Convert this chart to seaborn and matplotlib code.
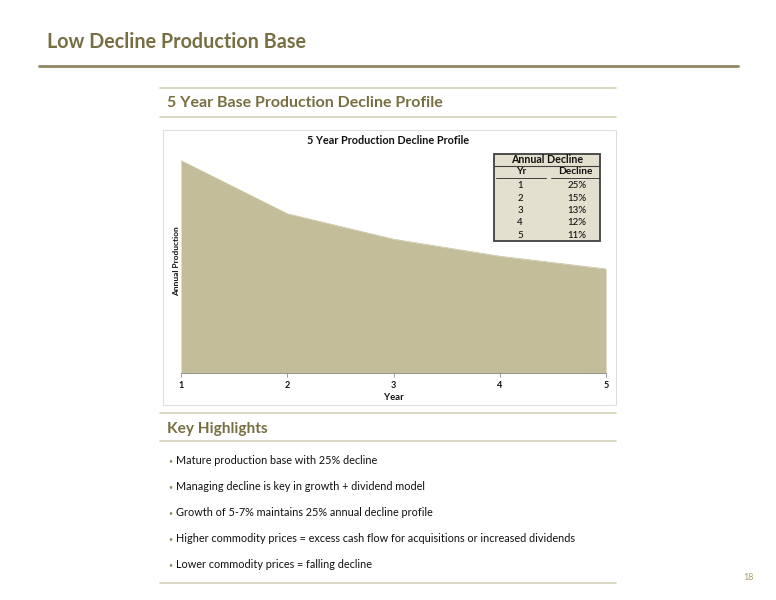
import matplotlib
matplotlib.use("Agg")
import matplotlib.pyplot as plt
from matplotlib.lines import Line2D
from matplotlib.patches import Rectangle
import seaborn as sns
import pandas as pd

# Data
years = [1, 2, 3, 4, 5]
production = [100, 75, 63, 55, 49]
table_years = ["1", "2", "3", "4", "5"]
table_declines = ["25%", "15%", "13%", "12%", "11%"]
highlights = [
    "Mature production base with 25% decline",
    "Managing decline is key in growth + dividend model",
    "Growth of 5-7% maintains 25% annual decline profile",
    "Higher commodity prices = excess cash flow for acquisitions or increased dividends",
    "Lower commodity prices = falling decline",
]

W, H = 776, 600
olive = "#776f43"
area_col = "#c4bd99"
rule_col = "#d3cfb8"
dark = "#111111"

sns.set_theme(style="white")
plt.rcParams["font.family"] = ["Lato", "DejaVu Sans"]


def fx(px):
    return px / W


def fy(py):
    return 1 - py / H


def hline(x0, x1, y, color, lw):
    fig.add_artist(Line2D([fx(x0), fx(x1)], [fy(y), fy(y)], color=color, lw=lw,
                          transform=fig.transFigure))


fig = plt.figure(figsize=(W / 100, H / 100), dpi=100)

# page header
fig.text(fx(47), fy(42), "Low Decline Production Base", fontsize=14.2, fontweight="bold",
         color=olive, va="center", ha="left")
hline(39, 738, 66, "#8d8762", 2)

# sub header
hline(160, 616, 88, rule_col, 1.2)
fig.text(fx(167), fy(103), "5 Year Base Production Decline Profile", fontsize=11.5,
         fontweight="bold", color=olive, va="center", ha="left")
hline(160, 616, 117, rule_col, 1.2)

# chart frame
fig.add_artist(Rectangle((fx(163), fy(405)), fx(616) - fx(163), fy(130) - fy(405),
                         transform=fig.transFigure, fill=False, edgecolor="#dddddd", lw=0.8))

# chart
ax = fig.add_axes([fx(181), fy(373), fx(606) - fx(181), fy(150) - fy(373)])
df = pd.DataFrame({"Year": years, "Production": production})
sns.lineplot(data=df, x="Year", y="Production", ax=ax, color=area_col, lw=0.5)
ax.fill_between(df["Year"], df["Production"], 0, color=area_col, lw=0)
ax.set_xlim(1, 5)
ax.set_ylim(0, 105)
ax.set_xticks(years)
ax.set_xticklabels([str(y) for y in years], fontsize=6.5, fontweight="bold", color=dark)
ax.tick_params(axis="x", length=3, width=0.6, color="#888888", pad=3, bottom=True)
ax.set_yticks([])
for s in ["top", "right", "left"]:
    ax.spines[s].set_visible(False)
ax.spines["bottom"].set_color("#888888")
ax.spines["bottom"].set_linewidth(0.6)
ax.set_xlabel("Year", fontsize=6.8, fontweight="bold", color=dark, labelpad=2)
ax.set_ylabel("Annual Production", fontsize=6, fontweight="bold", color=dark, labelpad=1)
ax.set_facecolor("none")

fig.text(fx(388), fy(141), "5 Year Production Decline Profile", fontsize=7.8,
         fontweight="bold", color=dark, ha="center", va="center")

# decline table
fig.add_artist(Rectangle((fx(494), fy(241)), fx(600) - fx(494), fy(154) - fy(241),
                         transform=fig.transFigure, facecolor="#e4e0cf", edgecolor="#404040",
                         lw=1.3))
fig.text(fx(547), fy(160), "Annual Decline", fontsize=7.7, fontweight="bold", color=dark,
         ha="center", va="center")
hline(494, 600, 165.5, "#404040", 0.8)
fig.text(fx(521), fy(172), "Yr", fontsize=7.3, fontweight="bold", color=dark,
         ha="center", va="center")
fig.text(fx(575), fy(172), "Decline", fontsize=7.3, fontweight="bold", color=dark,
         ha="center", va="center")
hline(496, 546, 177.5, "#404040", 0.7)
hline(551, 600, 177.5, "#404040", 0.7)
for i, (yr, dc) in enumerate(zip(table_years, table_declines)):
    yy = 185.5 + i * 12.5
    fig.text(fx(520), fy(yy), yr, fontsize=7, fontweight="medium", color=dark,
             ha="center", va="center")
    fig.text(fx(577), fy(yy), dc, fontsize=7, fontweight="medium", color=dark,
             ha="center", va="center")

# key highlights
hline(160, 616, 413, rule_col, 1.2)
fig.text(fx(167), fy(429), "Key Highlights", fontsize=11.1, fontweight="bold", color=olive,
         va="center", ha="left")
hline(160, 616, 441, rule_col, 1.2)
for i, txt in enumerate(highlights):
    yy = 461 + i * 26
    fig.text(fx(168), fy(yy), "\u2022", fontsize=5, color="#8d8762", va="center", ha="left")
    fig.text(fx(176), fy(yy), txt, fontsize=7.8, color=dark, va="center", ha="left")
hline(160, 616, 583, rule_col, 1.2)

fig.text(fx(748), fy(578), "18", fontsize=6.5, color="#a89f70", ha="center", va="center")

fig.savefig("out.png", dpi=100)
